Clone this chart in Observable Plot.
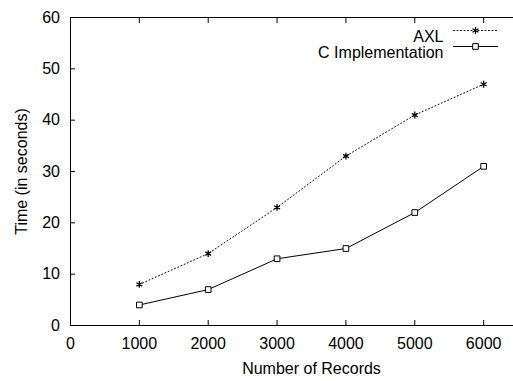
<!DOCTYPE html>
<html><head><meta charset="utf-8">
<script src="https://cdn.jsdelivr.net/npm/d3@7"></script>
<script src="https://cdn.jsdelivr.net/npm/@observablehq/plot@0.6"></script>
<style>html,body{margin:0;padding:0;overflow:hidden;background:#fff}
#chart svg{max-width:none!important;width:552px!important;height:381px!important;display:block}</style>
</head><body><div id="chart"></div>
<script>
const records = [1000, 2000, 3000, 4000, 5000, 6000];
const axlTimes = [8, 14, 23, 33, 41, 47];
const cTimes = [4, 7, 13, 15, 22, 31];
const xTicks = [0, 1000, 2000, 3000, 4000, 5000, 6000, 7000];
const yTicks = [0, 10, 20, 30, 40, 50, 60];
const seriesNames = ["AXL", "C Implementation"];

const axl = records.map((x, i) => ({x, y: axlTimes[i]}));
const cimp = records.map((x, i) => ({x, y: cTimes[i]}));

const lineShape = {draw(context, l) { context.moveTo(0, 0); context.lineTo(0, -l); }};
const font = "'Liberation Sans', Arial, sans-serif";

const chart = Plot.plot({
  width: 552,
  height: 381,
  marginLeft: 70,
  marginRight: 0,
  marginTop: 17,
  marginBottom: 56,
  style: {fontFamily: font, fontSize: "16px", color: "#000", background: "#fff", overflow: "visible"},
  x: {domain: [0, 7000]},
  y: {domain: [0, 60]},
  marks: [
    Plot.frame({stroke: "#000", strokeWidth: 1}),
    // inward ticks
    Plot.axisX({anchor: "bottom", ticks: xTicks, tickSize: -5, fill: "none", stroke: "#000"}),
    Plot.axisX({anchor: "top", ticks: xTicks, tickSize: -5, fill: "none", stroke: "#000"}),
    Plot.axisY({anchor: "left", ticks: yTicks, tickSize: -5, fill: "none", stroke: "#000"}),
    // labels
    Plot.axisX({anchor: "bottom", ticks: xTicks, tickSize: 0, tickPadding: 12, fill: "#000", fontSize: 16,
      tickFormat: d => d === 7000 ? "" : String(d),
      label: "Number of Records", labelAnchor: "center", labelArrow: "none", labelOffset: 48}),
    Plot.axisY({anchor: "left", ticks: yTicks, tickSize: 0, tickPadding: 10.5, fill: "#000", fontSize: 16,
      tickFormat: d => String(d),
      label: "Time (in seconds)", labelAnchor: "center", labelArrow: "none", labelOffset: 55}),
    // series
    Plot.line(axl, {x: "x", y: "y", stroke: "#000", strokeWidth: 1, strokeDasharray: "1,2.5"}),
    Plot.dot(axl, {x: "x", y: "y", symbol: "asterisk", r: 3.2, stroke: "#000", strokeWidth: 1.3}),
    Plot.line(cimp, {x: "x", y: "y", stroke: "#000", strokeWidth: 1}),
    Plot.dot(cimp, {x: "x", y: "y", symbol: "square", r: 3.2, fill: "#fff", stroke: "#000", strokeWidth: 1}),
    // legend
    Plot.text([seriesNames[0]], {text: d => d, frameAnchor: "top-right", textAnchor: "end", dx: -109, dy: 13, fontSize: 16, fill: "#000"}),
    Plot.text([seriesNames[1]], {text: d => d, frameAnchor: "top-right", textAnchor: "end", dx: -109, dy: 29, fontSize: 16, fill: "#000"}),
    Plot.vector([seriesNames[0]], {frameAnchor: "top-right", dx: -77, dy: 13, length: 44, rotate: 90, anchor: "middle", shape: lineShape, stroke: "#000", strokeWidth: 1, strokeDasharray: "1,2.5"}),
    Plot.vector([seriesNames[1]], {frameAnchor: "top-right", dx: -77, dy: 29, length: 44, rotate: 90, anchor: "middle", shape: lineShape, stroke: "#000", strokeWidth: 1}),
    Plot.dot([seriesNames[0]], {frameAnchor: "top-right", dx: -77, dy: 13, symbol: "asterisk", r: 3.2, stroke: "#000", strokeWidth: 1.3}),
    Plot.dot([seriesNames[1]], {frameAnchor: "top-right", dx: -77, dy: 29, symbol: "square", r: 3.2, fill: "#fff", stroke: "#000", strokeWidth: 1})
  ]
});
document.getElementById("chart").appendChild(chart);
</script>
</body></html>
